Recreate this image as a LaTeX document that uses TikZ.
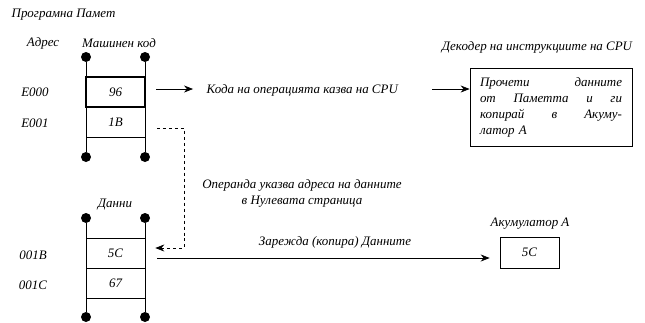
\documentclass[tikz,border=0pt]{standalone}
\usepackage{fontspec}
\setmainfont{Liberation Serif}
\usetikzlibrary{positioning,arrows.meta}

\begin{document}
\begin{tikzpicture}[x=1bp,y=-1bp,>={Stealth[length=9bp,width=7bp]},line width=0.7bp,
    every node/.style={font=\fontsize{13}{16}\selectfont\itshape},
    dot/.style={circle,fill,inner sep=0pt,minimum size=10bp},
    cell/.style={rectangle,draw,minimum width=59bp,minimum height=30bp,inner sep=0pt},
    box/.style={rectangle,draw}]

    \useasboundingbox (0,0) rectangle (645,322);

    % program memory
    \node[anchor=west] (title) at (8,15) {Програмна Памет};
    \node (adr) at (43,43) {Адрес};
    \node (code) at (119,43) {Машинен код};

    \node[dot] (p1) at (86,57) {};
    \node[dot] (p2) at (145,57) {};
    \node[dot] (p3) at (86,157) {};
    \node[dot] (p4) at (145,157) {};
    \draw (p1) -- (p3);
    \draw (p2) -- (p4);

    \node[cell] (c2) at (115.5,122) {1B};
    \node[cell, line width=1.8bp] (c1) at (115.5,92) {96};
    \node (a1) at (35,92) {E000};
    \node (a2) at (35,123) {E001};

    % data memory
    \node (data) at (115,205) {Данни};
    \node[dot] (q1) at (86,218) {};
    \node[dot] (q2) at (145,218) {};
    \node[dot] (q3) at (86,317) {};
    \node[dot] (q4) at (145,317) {};
    \draw (q1) -- (q3);
    \draw (q2) -- (q4);

    \node[cell] (c3) at (115.5,253.5) {5C};
    \node[cell] (c4) at (115.5,283.5) {67};
    \node (a3) at (33,255) {001B};
    \node (a4) at (33,285) {001C};

    % decoder
    \node[anchor=west] (op) at (203,90) {Кода на операцията казва на CPU};
    \node (declab) at (537,47) {Декодер на инструкциите на CPU};
    \node[box, text width=142bp, minimum height=78bp, inner xsep=10bp, align=left] (dec) at (551,107)
        {Прочети\hfill данните\\ от\hfill Паметта\hfill и\hfill ги\\ копирай\hfill в\hfill Акуму-\\ латор А};

    % accumulator
    \node (acclab) at (530,224) {Акумулатор А};
    \node[box, minimum width=59bp, minimum height=31bp] (acc) at (529.5,252.5) {5C};

    \node[align=center] (oper) at (302,193) {Операнда указва адреса на данните\\в Нулевата страница};
    \node (load) at (335,242) {Зарежда (копира) Данните};

    \coordinate (s1) at (156,89);
    \coordinate (s2) at (432,89);
    \coordinate (d1) at (157,128);
    \coordinate (d2) at (184,248);
    \coordinate (l1) at (157,258);

    \draw[->] (s1) -- ([xshift=-10]op.west |- s1);
    \draw[->] (s2) -- (dec.west |- s2);
    \draw[->, dashed] (d1) -| (d2) -- ([xshift=10]c3.east |- d2);
    \draw[->] (l1) -- ([xshift=-10]acc.west |- l1);
\end{tikzpicture}
\end{document}
